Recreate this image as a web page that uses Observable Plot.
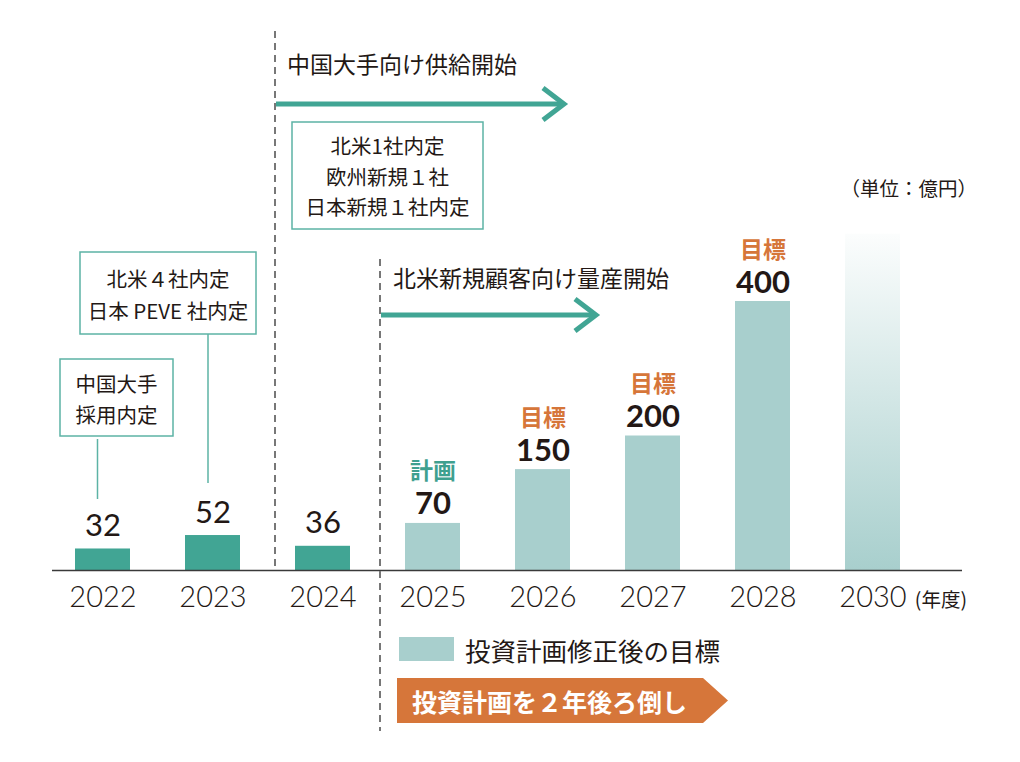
<!DOCTYPE html>
<html><head><meta charset="utf-8">
<script src="https://cdn.jsdelivr.net/npm/d3@7"></script>
<script src="https://cdn.jsdelivr.net/npm/@observablehq/plot@0.6"></script>
<style>
body{margin:0;background:#fff;}
#chart svg{display:block;}
</style></head><body><div id="chart"></div>
<script>
// ---- data ----
const years = ["2022","2023","2024","2025","2026","2027","2028","2030"];
const values = [32, 52, 36, 70, 150, 200, 400, 500];
const valueLabels = ["32","52","36","70","150","200","400",""];
const tags = ["","","","計画","目標","目標","目標",""];
const kinds = ["実績","実績","実績","計画","目標","目標","目標","将来"];
const legendLabel = "投資計画修正後の目標";
const bannerLabel = "投資計画を２年後ろ倒し";
const unitLabel = "（単位：億円）";
const yearUnit = "(年度)";
const eventA = "中国大手向け供給開始";
const eventB = "北米新規顧客向け量産開始";
const noteA = ["中国大手", "採用内定"];
const noteB = ["北米４社内定", "日本 PEVE 社内定"];
const noteC = ["北米1社内定", "欧州新規１社", "日本新規１社内定"];

const data = years.map((year, i) => ({year, value: values[i], label: valueLabels[i], tag: tags[i], kind: kinds[i]}));

const DARK = "#41a594", LIGHT = "#a8cfcd", ORANGE = "#d6763a", TEAL = "#3fa08f", INK = "#231815";
const JP = "'Noto Sans CJK JP', sans-serif";
const NUM = "Lato, 'Noto Sans CJK JP', sans-serif";
const tagColor = k => k === "計画" ? TEAL : ORANGE;

const chart = Plot.plot({
  width: 1020, height: 762,
  marginTop: 20, marginBottom: 192, marginLeft: 52, marginRight: 58,
  style: {color: INK, background: "#fff"},
  x: {type: "band", domain: years, range: [17, 957], padding: 0.5},
  y: {domain: [0, 400], range: [570, 301], axis: null},
  marks: [
    Plot.barY(data, {filter: d => d.kind === "実績", x: "year", y: "value", fill: DARK}),
    Plot.barY(data, {filter: d => d.kind === "計画" || d.kind === "目標", x: "year", y: "value", fill: LIGHT}),
    Plot.barY(data, {filter: d => d.kind === "将来", x: "year", y: "value", fill: "url(#fade)"}),
    Plot.ruleY([0], {stroke: "#3a3a3a", strokeWidth: 1.5}),
    Plot.axisX({tickSize: 0, tickPadding: 16, fontSize: 29, fontFamily: NUM, fontWeight: 300, label: null}),
    Plot.text(data, {filter: d => d.kind === "実績", x: "year", y: "value", text: "label",
      lineAnchor: "bottom", dy: -13, fontSize: 31, fontWeight: 400, fontFamily: NUM, fill: INK}),
    Plot.text(data, {filter: d => d.kind === "計画" || d.kind === "目標", x: "year", y: "value", text: "label",
      lineAnchor: "bottom", dy: -9, fontSize: 31, fontWeight: "bold", fontFamily: NUM, fill: INK}),
    Plot.text(data, {filter: d => d.tag !== "", x: "year", y: "value", text: "tag",
      lineAnchor: "bottom", dy: -44, fontSize: 23, fontWeight: "bold", fontFamily: JP, fill: d => tagColor(d.kind)})
  ]
});
document.getElementById("chart").appendChild(chart);

// ---- annotations ----
const svg = d3.select(chart);
const defs = svg.insert("defs", ":first-child");
const g = defs.append("linearGradient").attr("id", "fade").attr("x1", 0).attr("y1", 1).attr("x2", 0).attr("y2", 0);
g.append("stop").attr("offset", "0%").attr("stop-color", LIGHT).attr("stop-opacity", 1);
g.append("stop").attr("offset", "100%").attr("stop-color", LIGHT).attr("stop-opacity", 0.04);

const ann = svg.append("g").attr("font-family", JP).attr("fill", INK).attr("text-anchor", "start");

// dashed separators
ann.append("line").attr("x1", 275).attr("x2", 275).attr("y1", 31).attr("y2", 570)
  .attr("stroke", "#777").attr("stroke-width", 2).attr("stroke-dasharray", "7,5");
ann.append("line").attr("x1", 380).attr("x2", 380).attr("y1", 259).attr("y2", 731)
  .attr("stroke", "#777").attr("stroke-width", 2).attr("stroke-dasharray", "7,5");

// arrows
function arrow(x0, x1, y) {
  ann.append("line").attr("x1", x0).attr("x2", x1 - 2).attr("y1", y).attr("y2", y)
    .attr("stroke", DARK).attr("stroke-width", 5);
  ann.append("path").attr("d", `M${x1 - 21},${y - 16}L${x1},${y}L${x1 - 21},${y + 16}`)
    .attr("fill", "none").attr("stroke", DARK).attr("stroke-width", 5);
}
arrow(276, 564, 104);
arrow(381, 596, 315);

ann.append("text").attr("x", 287).attr("y", 63).attr("dominant-baseline", "central")
  .attr("font-size", 23).text(eventA);
ann.append("text").attr("x", 393).attr("y", 277).attr("dominant-baseline", "central")
  .attr("font-size", 23).text(eventB);

// note boxes
function box(x0, y0, w, h, lines, firstY, step) {
  ann.append("rect").attr("x", x0).attr("y", y0).attr("width", w).attr("height", h)
    .attr("fill", "#fff").attr("stroke", "#5cb3a5").attr("stroke-width", 1.5);
  lines.forEach((t, i) => ann.append("text").attr("x", x0 + w / 2).attr("y", firstY + i * step)
    .attr("text-anchor", "middle").attr("dominant-baseline", "central").attr("font-size", 20.5).text(t));
}
box(292, 122, 191, 107, noteC, 145, 30.5);
box(80, 252, 176, 82, noteB, 278, 32);
box(60, 359, 113, 77, noteA, 383, 31);
ann.append("line").attr("x1", 208).attr("x2", 208).attr("y1", 334).attr("y2", 483)
  .attr("stroke", "#5cb3a5").attr("stroke-width", 1.5);
ann.append("line").attr("x1", 97.5).attr("x2", 97.5).attr("y1", 439).attr("y2", 499)
  .attr("stroke", "#5cb3a5").attr("stroke-width", 1.5);

// unit labels
ann.append("text").attr("x", 977).attr("y", 187).attr("text-anchor", "end").attr("dominant-baseline", "central")
  .attr("font-size", 19.5).text(unitLabel);
ann.append("text").attr("x", 967).attr("y", 598).attr("text-anchor", "end").attr("dominant-baseline", "central")
  .attr("font-size", 19.5).text(yearUnit);

// legend
ann.append("rect").attr("x", 399).attr("y", 637).attr("width", 55).attr("height", 24).attr("fill", LIGHT);
ann.append("text").attr("x", 465).attr("y", 649).attr("dominant-baseline", "central")
  .attr("font-size", 25.5).text(legendLabel);

// banner
ann.append("path").attr("d", "M397,678L703,678L728,700.5L703,723L397,723Z").attr("fill", ORANGE);
ann.append("text").attr("x", 412).attr("y", 700.5).attr("dominant-baseline", "central")
  .attr("font-size", 25).attr("font-weight", "bold").attr("fill", "#fff").text(bannerLabel);
</script></body></html>
